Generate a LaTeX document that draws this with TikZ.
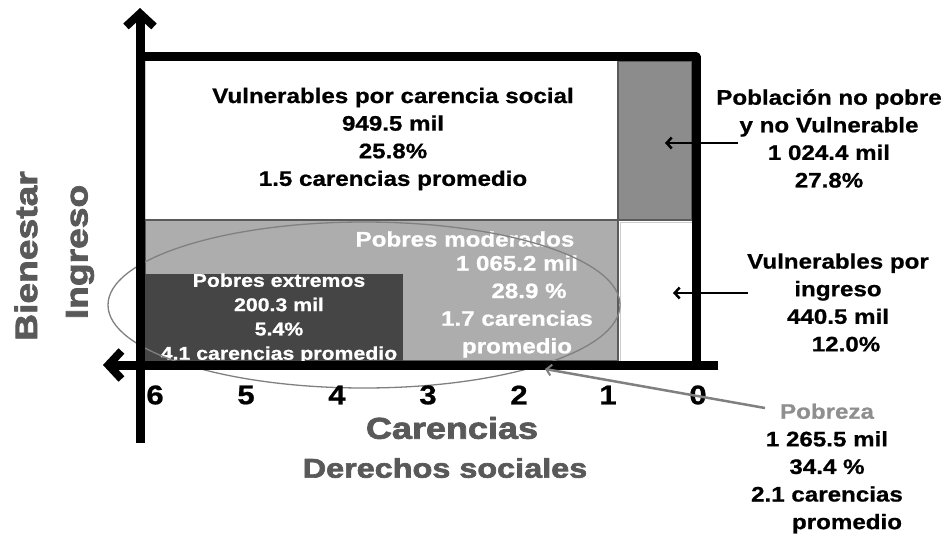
\documentclass[tikz,border=0pt]{standalone}
\usepackage{fontspec}
\setmainfont{Liberation Sans}[FakeStretch=1.15, BoldFeatures={FakeBold=0.8}]
\newfontfamily\widefont{Liberation Sans}[FakeStretch=1.2, BoldFeatures={FakeBold=2.5}]
\usetikzlibrary{arrows.meta}
\definecolor{cellmid}{HTML}{8C8C8C}
\definecolor{celllight}{HTML}{ADADAD}
\definecolor{celldark}{HTML}{454545}
\definecolor{celledge}{HTML}{5A5A5A}
\definecolor{labelgray}{HTML}{595959}
\definecolor{linegray}{HTML}{808080}
\definecolor{pobgray}{HTML}{8F8F8F}
\tikzset{
  txt/.style={font=\bfseries\fontsize{21}{27.6}\selectfont, align=center, inner sep=0pt},
  smalltxt/.style={font=\bfseries\fontsize{18.5}{24.3}\selectfont, align=center, inner sep=0pt, text=white},
  digit/.style={font=\bfseries\fontsize{27}{27}\selectfont, inner sep=0pt},
  biglabel/.style={font=\widefont\bfseries\fontsize{#1}{#1}\selectfont, text=labelgray, inner sep=0pt},
  axisline/.style={line width=9pt, -{Straight Barb[length=13pt,width=28pt,line width=8pt]}},
  frame/.style={line width=9pt, line join=round},
  callout/.style={line width=2.5pt, -{Straight Barb[length=5pt,width=11pt,line width=2.5pt]}},
  graycallout/.style={line width=2.5pt, linegray, -{Straight Barb[length=5pt,width=11pt,line width=2pt]}},
}
\begin{document}
\begin{tikzpicture}[x=1pt,y=-1pt]
\useasboundingbox (0,0) rectangle (947,535);
% cells
\filldraw[fill=white, draw=gray!40, line width=1pt] (145,61) rectangle (617,219);
\filldraw[fill=cellmid, draw=celledge, line width=1.2pt] (618,61) rectangle (692,220);
\filldraw[fill=celllight, draw=celledge, line width=1.2pt] (145,220) rectangle (618,361);
\filldraw[fill=white, draw=gray!40, line width=1pt] (620,222) rectangle (692,361);
\fill[celldark] (145,274) rectangle (403,361);
% texts inside
\node[txt] (vcs) at (393,139) {Vulnerables por carencia social\\949.5 mil\\25.8\%\\1.5 carencias promedio};
\node[txt, text=white] (pmt) at (465,239) {Pobres moderados};
\node[txt, text=white] (pmv) at (517,306.5) {1 065.2 mil\\\hspace{24pt}28.9 \%\\1.7 carencias\\promedio};
\node[smalltxt] (pe) at (279,318.5) {Pobres extremos\\200.3 mil\\5.4\%\\4.1 carencias promedio};
% ellipse
\draw[linegray, line width=1.3pt] (364,305) ellipse [x radius=256, y radius=83];
% axes and frame
\coordinate (ybot) at (140,443);
\coordinate (ytop) at (140,8);
\coordinate (xright) at (718,365);
\coordinate (xleft) at (103,365);
\coordinate (tl) at (140,57);
\coordinate (tr) at (696,57);
\coordinate (br) at (696,365);
\draw[frame] (tl) -- (tr) -- (br);
\draw[axisline] (ybot) -- (ytop);
\draw[axisline] (xright) -- (xleft);
% digits
\node[digit] (d6) at (155,395) {6};
\node[digit] (d5) at (246,395) {5};
\node[digit] (d4) at (337,395) {4};
\node[digit] (d3) at (428,395) {3};
\node[digit] (d2) at (519,395) {2};
\node[digit] (d1) at (608,395) {1};
\node[digit] (d0) at (698,395) {0};
% axis labels
\node[biglabel=30] (car) at (452,428) {Carencias};
\node[biglabel=27] (der) at (445,468) {Derechos sociales};
\node[biglabel=31, rotate=90] (bien) at (26,256) {Bienestar};
\node[biglabel=31, rotate=90] (ing) at (80,252) {Ingreso};
% right callouts
\node[txt] (nopobre) at (829,138.5) {Población no pobre\\y no Vulnerable\\1 024.4 mil\\27.8\%};
\coordinate (a1s) at (738,143);
\coordinate (a1e) at (665,143);
\draw[callout] (a1s) -- (a1e);
\node[txt] (vping) at (838,302.5) {Vulnerables por\\ingreso\\440.5 mil\\\hspace{16pt}12.0\%};
\coordinate (a2s) at (748,293);
\coordinate (a2e) at (673,293);
\draw[callout] (a2s) -- (a2e);
\node[txt] (pob) at (827,468.5) {\textcolor{pobgray}{Pobreza}\\1 265.5 mil\\34.4 \%\\2.1 carencias\\\hspace{40pt}promedio};
\coordinate (a3s) at (765,408);
\coordinate (a3e) at (545,369);
\draw[graycallout] (a3s) -- (a3e);
\end{tikzpicture}
\end{document}
